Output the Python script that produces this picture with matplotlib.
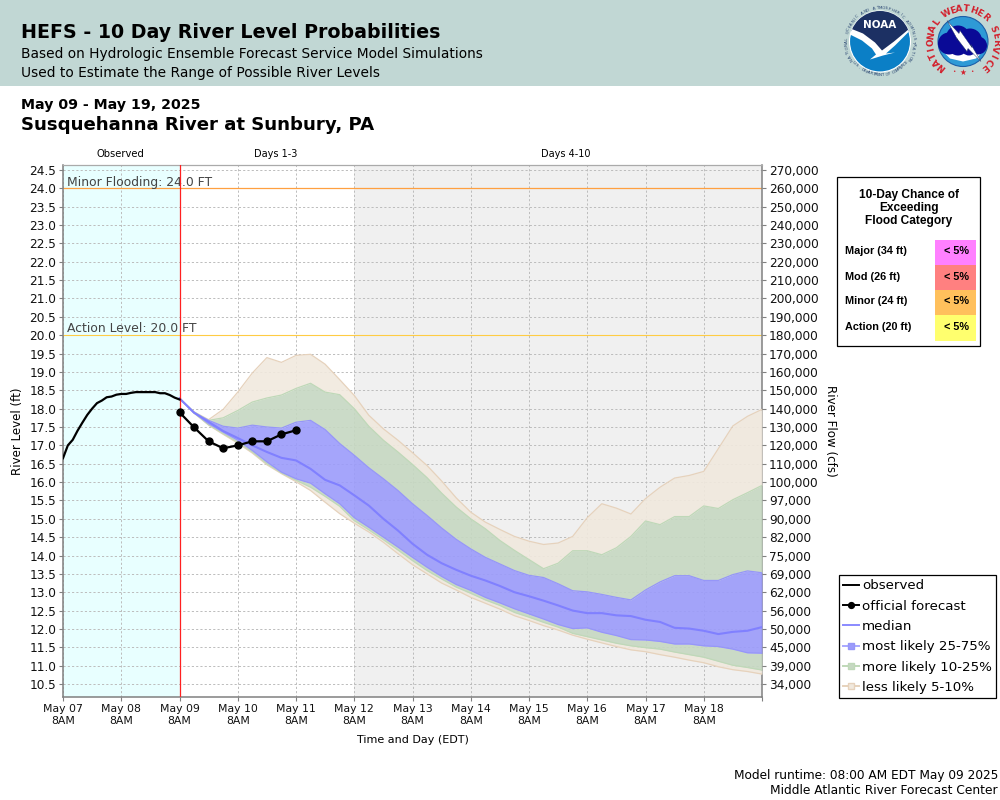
"""HEFS 10 day river level probabilities, Susquehanna River at Sunbury, PA."""
import numpy as np
import matplotlib
matplotlib.use("Agg")
import matplotlib.pyplot as plt
from matplotlib.lines import Line2D
from matplotlib.patches import Circle, Polygon, Rectangle

# observed stage, every 2 h from May 07 8AM
obs_level = [16.65, 17.00, 17.15, 17.40, 17.62, 17.83, 18.00, 18.15, 18.22, 18.31, 18.33, 18.38, 18.40,
             18.40, 18.43, 18.45, 18.45, 18.45, 18.45, 18.45, 18.42, 18.42, 18.37, 18.30, 18.25]
# official forecast, every 6 h from May 09 8AM
fcst_level = [17.90, 17.49, 17.11, 16.92, 17.00, 17.11, 17.11, 17.30, 17.41]

# ensemble percentiles, every 6 h from May 09 8AM
p95 = [18.28, 17.91, 17.70, 17.98, 18.45, 18.97, 19.39, 19.26, 19.45, 19.48, 19.21, 18.79, 18.36, 17.82,
       17.45, 17.14, 16.80, 16.45, 16.03, 15.57, 15.18, 14.91, 14.71, 14.52, 14.39, 14.30, 14.34, 14.52,
       15.03, 15.41, 15.29, 15.13, 15.55, 15.86, 16.11, 16.18, 16.29, 16.91, 17.53, 17.79, 17.98]
p90 = [18.28, 17.91, 17.68, 17.75, 17.95, 18.18, 18.29, 18.37, 18.55, 18.69, 18.45, 18.38, 18.00, 17.52,
       17.14, 16.82, 16.48, 16.12, 15.70, 15.32, 15.00, 14.73, 14.41, 14.14, 13.89, 13.64, 13.79, 14.13,
       14.13, 14.02, 14.21, 14.52, 14.94, 14.84, 15.06, 15.06, 15.35, 15.28, 15.52, 15.71, 15.91]
p75 = [18.28, 17.89, 17.68, 17.52, 17.47, 17.55, 17.50, 17.47, 17.63, 17.68, 17.43, 17.05, 16.73, 16.39,
       16.09, 15.77, 15.41, 15.09, 14.75, 14.44, 14.18, 13.95, 13.77, 13.59, 13.46, 13.40, 13.23, 13.04,
       13.01, 12.94, 12.86, 12.79, 13.06, 13.28, 13.45, 13.45, 13.32, 13.32, 13.48, 13.58, 13.53]
p50 = [18.28, 17.89, 17.64, 17.39, 17.20, 17.00, 16.82, 16.66, 16.59, 16.36, 16.06, 15.91, 15.64, 15.36,
       15.00, 14.68, 14.32, 14.02, 13.79, 13.61, 13.45, 13.32, 13.17, 13.00, 12.89, 12.77, 12.64, 12.50,
       12.43, 12.43, 12.37, 12.35, 12.25, 12.19, 12.03, 12.01, 11.95, 11.86, 11.92, 11.95, 12.05]
p25 = [18.28, 17.89, 17.59, 17.36, 17.14, 16.86, 16.55, 16.27, 16.09, 15.97, 15.68, 15.41, 15.03, 14.77,
       14.50, 14.23, 13.95, 13.68, 13.43, 13.21, 13.05, 12.86, 12.71, 12.55, 12.41, 12.27, 12.12, 12.01,
       12.03, 11.91, 11.82, 11.71, 11.70, 11.66, 11.59, 11.59, 11.54, 11.52, 11.45, 11.35, 11.34]
p10 = [18.28, 17.88, 17.56, 17.32, 17.09, 16.82, 16.50, 16.25, 16.05, 15.86, 15.61, 15.34, 14.95, 14.70,
       14.43, 14.15, 13.86, 13.59, 13.36, 13.14, 12.97, 12.79, 12.64, 12.45, 12.32, 12.18, 12.05, 11.88,
       11.79, 11.70, 11.61, 11.54, 11.49, 11.45, 11.37, 11.30, 11.23, 11.12, 11.01, 10.95, 10.88]
p05 = [18.28, 17.88, 17.55, 17.30, 17.06, 16.79, 16.47, 16.23, 16.01, 15.77, 15.45, 15.14, 14.88, 14.64,
       14.36, 14.05, 13.75, 13.50, 13.25, 13.06, 12.86, 12.70, 12.54, 12.36, 12.23, 12.09, 11.97, 11.83,
       11.72, 11.62, 11.52, 11.43, 11.38, 11.30, 11.23, 11.15, 11.08, 10.97, 10.89, 10.84, 10.77]

day_labels = ["May 07", "May 08", "May 09", "May 10", "May 11", "May 12",
              "May 13", "May 14", "May 15", "May 16", "May 17", "May 18"]
flow_labels = ["270,000", "260,000", "250,000", "240,000", "230,000", "220,000", "210,000", "200,000",
               "190,000", "180,000", "170,000", "160,000", "150,000", "140,000", "130,000", "120,000",
               "110,000", "100,000", "97,000", "90,000", "82,000", "75,000", "69,000", "62,000",
               "56,000", "50,000", "45,000", "39,000", "34,000"]
flood_rows = ["Major (34 ft)", "Mod (26 ft)", "Minor (24 ft)", "Action (20 ft)"]
flood_chance = ["< 5%", "< 5%", "< 5%", "< 5%"]
flood_colors = ["#ff80ff", "#ff8080", "#ffc05c", "#ffff6e"]

BLUE, GREEN, TAN = "#9b9bfb", "#c6d8c2", "#f1e9de"
BLUE_EDGE, GREEN_EDGE, TAN_EDGE = "#9696f8", "#bfd8b8", "#e6d2bc"
W, H = 1000, 800
FONT = "DejaVu Sans"

plt.rcParams["font.family"] = FONT
fig = plt.figure(figsize=(W / 100, H / 100), dpi=100)

# page overlay in pixel coordinates, for the banner, texts and logos
page = fig.add_axes([0, 0, 1, 1], zorder=0)
page.set_xlim(0, W); page.set_ylim(H, 0); page.axis("off")
top = fig.add_axes([0, 0, 1, 1], zorder=5)
top.set_xlim(0, W); top.set_ylim(H, 0); top.axis("off"); top.patch.set_alpha(0)

page.add_patch(Rectangle((0, 0), W, 85.5, fc="#c1d7d4", ec="none"))
page.text(21, 33, "HEFS - 10 Day River Level Probabilities", fontsize=13.73, fontweight="bold", va="center")
page.text(21, 54, "Based on Hydrologic Ensemble Forecast Service Model Simulations", fontsize=9.95, va="center")
page.text(21, 73, "Used to Estimate the Range of Possible River Levels", fontsize=9.95, va="center")
page.text(21, 105, "May 09 - May 19, 2025", fontsize=10.2, fontweight="bold", va="center")
page.text(21, 125.5, "Susquehanna River at Sunbury, PA", fontsize=13.1, fontweight="bold", va="center")
page.text(120, 154, "Observed", fontsize=7.2, ha="center", va="center")
page.text(276, 154, "Days 1-3", fontsize=7.0, ha="center", va="center")
page.text(566, 154, "Days 4-10", fontsize=7.0, ha="center", va="center")
page.text(18, 431, "River Level (ft)", fontsize=8.6, rotation=90, ha="center", va="center")
page.text(831, 431, "River Flow (cfs)", fontsize=8.6, rotation=270, ha="center", va="center")
page.text(413, 740, "Time and Day (EDT)", fontsize=8.0, ha="center", va="center")
page.text(998, 775.5, "Model runtime: 08:00 AM EDT May 09 2025", fontsize=8.77, ha="right", va="center")
page.text(998, 791, "Middle Atlantic River Forecast Center", fontsize=8.85, ha="right", va="center")


def ring_text(ax, text, cx, cy, r, start, end, size, color, weight="normal", flip=False):
    # one rotated character at a time; angles are clockwise from 12 o'clock
    for ch, a in zip(text, np.linspace(start, end, len(text))):
        th = np.radians(a)
        rot = -a + 180 if flip else -a
        ax.text(cx + r * np.sin(th), cy - r * np.cos(th), ch, fontsize=size, color=color, fontweight=weight,
                rotation=rot, rotation_mode="anchor", ha="center", va="center")


# NOAA logo
cx, cy = 880, 41.5
disk = Circle((cx, cy), 30.5, fc="#0b7fc6", ec="white", lw=0.8)
page.add_patch(disk)
navy = Polygon([(cx - 34, cy - 34), (cx + 34, cy - 34), (cx + 34, cy - 14), (cx + 27, cy - 9), (cx + 12, cy + 3),
                (cx + 1, cy + 11), (cx - 5, cy + 4), (cx - 16, cy - 5), (cx - 34, cy - 13)],
               fc="#1c3063", ec="none")
page.add_patch(navy); navy.set_clip_path(disk)
bird = Polygon([(cx - 32, cy - 14), (cx - 17, cy - 8), (cx - 5, cy + 1), (cx + 2, cy + 9), (cx + 14, cy), (cx + 32, cy - 15),
                (cx + 30, cy - 11), (cx + 15, cy + 4), (cx + 6, cy + 12), (cx + 15, cy + 11), (cx + 3, cy + 14),
                (cx - 10, cy + 18), (cx - 4, cy + 13), (cx - 8, cy + 7), (cx - 18, cy - 1), (cx - 32, cy - 8)],
               fc="white", ec="none")
page.add_patch(bird); bird.set_clip_path(disk)
page.text(cx, cy - 17, "NOAA", fontsize=7.5, fontweight="bold", color="white", ha="center", va="center")
ring_text(page, "NATIONAL OCEANIC AND ATMOSPHERIC ADMINISTRATION", cx, cy, 33.5, -122, 122, 2.9, "#24406e")
ring_text(page, "U.S. DEPARTMENT OF COMMERCE", cx, cy, 33.5, -128, -232, 2.9, "#24406e", flip=True)

# NWS logo
cx, cy = 963, 41.5
page.add_patch(Circle((cx, cy), 25, fc="#2e9ad6", ec="#1c5fa8", lw=0.8))
page.add_patch(Polygon([(cx - 19, cy + 11), (cx + 19, cy + 11), (cx + 13, cy + 17), (cx, cy + 20), (cx - 13, cy + 17)],
                       fc="white", ec="none"))
for dx, dy, r in [(-14, 2, 11), (-5, -4, 12), (7, -1, 12), (15, 4, 9), (-5, 4, 10), (6, 6, 8)]:
    page.add_patch(Circle((cx + dx, cy + dy), r, fc="#0a0a96", ec="none"))
page.add_patch(Polygon([(cx - 16, cy - 21), (cx - 4, cy - 8), (cx - 3, cy - 11), (cx + 9, cy + 6), (cx + 8, cy + 3),
                        (cx + 18, cy + 20), (cx + 5, cy + 7), (cx + 4, cy + 10), (cx - 6, cy - 3), (cx - 5, cy - 1)],
                       fc="white", ec="#1c3063", lw=0.3))
ring_text(page, "NATIONAL WEATHER SERVICE", cx, cy, 32.5, -140, 140, 6.4, "#d3202c", weight="bold")
page.text(cx, cy + 31, "★", fontsize=5.5, color="#d3202c", ha="center", va="center")
page.text(cx - 9, cy + 30, "•", fontsize=4, color="#d3202c", ha="center", va="center")
page.text(cx + 9, cy + 30, "•", fontsize=4, color="#d3202c", ha="center", va="center")

# main axes: 63..762 px wide, 165..697 px tall
ax = fig.add_axes([63 / W, 1 - 697 / H, 699 / W, 532 / H], zorder=2)
ax.set_xlim(0, 12)
ax.set_ylim(10.146, 24.636)
ax.set_facecolor("white")
ax.axvspan(0, 2, color="#e8ffff", lw=0, zorder=0)
ax.axvspan(5, 12, color="#f0f0f0", lw=0, zorder=0)

y_ticks = np.arange(10.5, 24.75, 0.5)
ax.set_yticks(y_ticks)
ax.set_yticklabels([f"{v:.1f}" for v in y_ticks], fontsize=8.7, color="#111111")
ax.set_xticks(np.arange(13))
ax.set_xticklabels([f"{d}\n8AM" for d in day_labels] + [""], fontsize=7.8, color="#111111", linespacing=1.3)
ax.tick_params(axis="both", length=3, width=0.8, color="#808080", pad=2)
ax.grid(True, color="#bcbcbc", ls=(0, (2.2, 2.2)), lw=0.7, zorder=1)
for gl in ax.get_xgridlines() + ax.get_ygridlines():
    gl.set_zorder(1)
for side in ("left", "bottom", "right"):
    ax.spines[side].set_color("#808080"); ax.spines[side].set_linewidth(1.1)
ax.spines["top"].set_color("#aaaaaa"); ax.spines["top"].set_linewidth(0.9)

flow = ax.twinx()
flow.set_ylim(ax.get_ylim())
flow.set_yticks(y_ticks)
flow.set_yticklabels(flow_labels[::-1], fontsize=8.7, color="#111111")
flow.tick_params(axis="y", length=3, width=0.8, color="#808080", pad=2)
for s in flow.spines.values():
    s.set_visible(False)

t_obs = np.arange(len(obs_level)) * 2 / 24
t_fc = 2 + np.arange(len(fcst_level)) * 6 / 24
t_ens = 2 + np.arange(len(p50)) * 6 / 24

# flood and action lines
ax.axhline(24, color="#ffa040", lw=0.9, zorder=2)
ax.axhline(20, color="#ffcc44", lw=0.8, zorder=2)
ax.text(0.07, 24.17, "Minor Flooding: 24.0 FT", fontsize=8.9, color="#444444", va="center", zorder=3)
ax.text(0.07, 20.17, "Action Level: 20.0 FT", fontsize=8.9, color="#444444", va="center", zorder=3)

# bands, semi transparent over the grid
for lo, hi, col in [(p90, p95, TAN), (p05, p10, TAN), (p75, p90, GREEN), (p10, p25, GREEN), (p25, p75, BLUE)]:
    ax.fill_between(t_ens, lo, hi, color=col, alpha=0.9, lw=0, zorder=3)
for s, edge in [(p95, TAN_EDGE), (p05, TAN_EDGE), (p90, GREEN_EDGE), (p10, GREEN_EDGE), (p75, BLUE_EDGE), (p25, BLUE_EDGE)]:
    ax.plot(t_ens, s, color=edge, lw=0.9, zorder=4)
ax.plot(t_ens, p50, color="#8080ff", lw=1.5, zorder=5)

ax.axvline(2, color="#ff2020", lw=0.9, zorder=6)
ax.plot(t_obs, obs_level, color="black", lw=1.6, zorder=7)
ax.plot(t_fc, fcst_level, color="black", lw=1.6, marker="o", ms=5, zorder=7)

# legend
handles = [Line2D([], [], color="black", lw=1.4),
           Line2D([], [], color="black", lw=1.4, marker="o", ms=4.2),
           Line2D([], [], color="#8a8aff", lw=1.4),
           Line2D([], [], color="#a8a8ff", lw=1.4, marker="s", ms=4.5, mfc=BLUE, mec=BLUE_EDGE),
           Line2D([], [], color=GREEN_EDGE, lw=1.4, marker="s", ms=4.5, mfc=GREEN, mec=GREEN_EDGE),
           Line2D([], [], color=TAN_EDGE, lw=1.4, marker="s", ms=4.5, mfc=TAN, mec=TAN_EDGE)]
leg_labels = ["observed", "official forecast", "median", "most likely 25-75%", "more likely 10-25%", "less likely 5-10%"]
leg = fig.legend(handles, leg_labels, loc="upper left", bbox_to_anchor=(839 / W, 1 - 575 / H), fontsize=9.6,
                 fancybox=False, framealpha=1, edgecolor="black", borderaxespad=0, borderpad=0.32,
                 handlelength=1.2, handletextpad=0.22, labelspacing=0.55)
leg.get_frame().set_linewidth(0.9)
leg.set_zorder(6)

# flood category box
top.add_patch(Rectangle((836.5, 176.5), 143.5, 169, fc="white", ec="black", lw=0.9))
for line, yy in zip(["10-Day Chance of", "Exceeding", "Flood Category"], [195, 208, 221]):
    top.text(909, yy, line, family="Liberation Sans", fontweight="bold", fontsize=8.6, ha="center", va="center")
for k, (name, chance, col) in enumerate(zip(flood_rows, flood_chance, flood_colors)):
    y0 = 240 + k * 25
    top.add_patch(Rectangle((935, y0), 41, 25.5, fc=col, ec="none"))
    top.text(845, y0 + 11.5, name, family="Liberation Sans", fontweight="bold", fontsize=7.8, va="center")
    top.text(957, y0 + 11.5, chance, family="Liberation Sans", fontweight="bold", fontsize=7.8, ha="center", va="center")

fig.savefig("out.png", dpi=100)
